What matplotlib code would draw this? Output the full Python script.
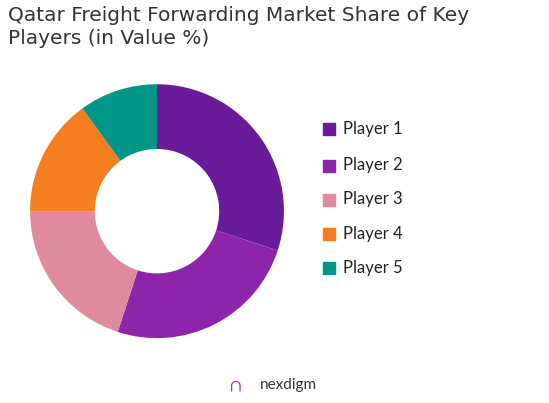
import matplotlib
matplotlib.use("Agg")
import matplotlib.pyplot as plt

players = ["Player 1", "Player 2", "Player 3", "Player 4", "Player 5"]
shares = [30, 25, 20, 15, 10]
colors = ["#6A1B9A", "#8E24AA", "#E08AA0", "#F57F20", "#009688"]

plt.rcParams['font.family'] = ['Lato', 'DejaVu Sans']

fig = plt.figure(figsize=(5.49, 4.03), dpi=100)
ax = fig.add_axes([0.0546, 0.161, 0.4627, 0.630])
ax.pie(shares, colors=colors, startangle=90, counterclock=False,
       wedgeprops=dict(width=0.51, edgecolor="none"))
ax.set_xlim(-1, 1)
ax.set_ylim(-1, 1)
ax.set_aspect("equal")

fig.text(0.015, 0.985, "Qatar Freight Forwarding Market Share of Key\nPlayers (in Value %)",
         ha="left", va="top", fontsize=14.5, color="#333333", linespacing=1.25,
         family=["DejaVu Sans"])

ys = [0.68, 0.59, 0.505, 0.42, 0.335]
for name, c, y in zip(players, colors, ys):
    fig.patches.append(plt.Rectangle((0.588, y - 0.016), 0.022, 0.03,
                                     transform=fig.transFigure, color=c))
    fig.text(0.625, y, name, ha="left", va="center", fontsize=12, color="#222222")

fig.text(0.43, 0.045, "\u2229", ha="center", va="center", fontsize=14, color="#8E24AA")
fig.text(0.525, 0.045, "nexdigm", ha="center", va="center", fontsize=11, color="#333333")

fig.savefig("out.png", dpi=100)
